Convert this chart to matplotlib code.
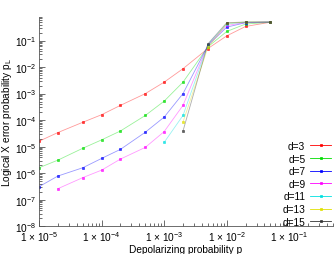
import matplotlib
matplotlib.use('Agg')
import matplotlib.pyplot as plt
from matplotlib.ticker import LogLocator, FixedLocator, NullFormatter

plt.rcParams['font.family'] = ['Liberation Sans', 'DejaVu Sans']
plt.rcParams['mathtext.fontset'] = 'custom'
plt.rcParams['mathtext.rm'] = 'Liberation Sans'
plt.rcParams['mathtext.it'] = 'Liberation Sans:italic'
plt.rcParams['font.size'] = 7.3

p_all = [1e-5, 2e-5, 5e-5, 1e-4, 2e-4, 5e-4, 1e-3, 2e-3, 5e-3, 1e-2, 2e-2, 5e-2]

d3 = [1.6e-5, 3.4e-5, 8.3e-5, 1.6e-4, 3.6e-4, 1.0e-3, 2.7e-3, 8.7e-3, 0.05, 0.15, 0.34, 0.49]
d5 = [1.6e-6, 3.1e-6, 8.7e-6, 1.8e-5, 3.9e-5, 1.5e-4, 5.2e-4, 2.7e-3, 0.058, 0.22, 0.42, 0.49]
d7 = [3.1e-7, 7.8e-7, 1.6e-6, 3.6e-6, 7.9e-6, 3.5e-5, 1.3e-4, 1.0e-3, 0.065, 0.32, 0.47, 0.5]
d9 = [2.6e-7, 6.8e-7, 1.3e-6, 3.4e-6, 9.4e-6, 3.7e-5, 3.6e-4, 0.068, 0.37, 0.48, 0.5]
d11 = [1.45e-5, 1.5e-4, 0.07, 0.42, 0.49, 0.5]
d13 = [8.5e-5, 0.055, 0.44, 0.5, 0.5]
d15 = [3.9e-5, 0.075, 0.47, 0.5, 0.5]

series = [('d=3', d3), ('d=5', d5), ('d=7', d7), ('d=9', d9),
          ('d=11', d11), ('d=13', d13), ('d=15', d15)]
cols = ['#ff0000', '#00dd00', '#0000ff', '#ff00ff', '#00e0e0', '#e0e000', '#333333']

fig = plt.figure(figsize=(3.34, 2.55), dpi=100)
ax = fig.add_axes([0.117, 0.109, 0.88, 0.822])

for (label, vals), col in zip(series, cols):
    ps = p_all[len(p_all) - len(vals):]
    ax.plot(ps, vals, color=col, lw=0.6, alpha=0.4)
    ax.plot(ps, vals, ls='None', marker='s', ms=1.8, mew=0.5,
            mec=col, mfc=col, alpha=0.75)
    # legend handle
    ax.plot([], [], color=col, lw=0.6, marker='s', ms=1.8, mew=0.5,
            mfc=col, label=label)

ax.set_xscale('log')
ax.set_yscale('log')
ax.set_xlim(1e-5, 0.5)
ax.set_ylim(1e-8, 0.8)

ax.xaxis.set_major_locator(FixedLocator([1e-5, 1e-4, 1e-3, 1e-2, 1e-1]))
ax.set_xticklabels([r'1 $\times$ 10$^{-5}$', r'1 $\times$ 10$^{-4}$', r'1 $\times$ 10$^{-3}$',
                    r'1 $\times$ 10$^{-2}$', r'1 $\times$ 10$^{-1}$'])
ax.xaxis.set_minor_locator(LogLocator(base=10, subs=range(2, 10), numticks=20))
ax.xaxis.set_minor_formatter(NullFormatter())
ax.yaxis.set_major_locator(FixedLocator([10.0 ** k for k in range(-8, 0)]))
ax.set_yticklabels([r'10$^{%d}$' % k for k in range(-8, 0)])
ax.yaxis.set_minor_locator(LogLocator(base=10, subs=range(2, 10), numticks=20))
ax.yaxis.set_minor_formatter(NullFormatter())

ax.tick_params(which='both', direction='in', colors='#555555', labelcolor='black', width=0.6)
ax.tick_params(which='major', length=4, pad=2)
ax.tick_params(which='minor', length=2)
for s in ['top', 'right']:
    ax.spines[s].set_visible(False)
for s in ['left', 'bottom']:
    ax.spines[s].set_color('#555555')
    ax.spines[s].set_linewidth(0.6)

ax.set_xlabel('Depolarizing probability p', labelpad=1)
ax.set_ylabel(r'Logical X error probability p$_\mathrm{L}$', labelpad=1)

ax.legend(loc='lower right', bbox_to_anchor=(0.99, 0.107), bbox_transform=fig.transFigure,
          frameon=False, markerfirst=False, handlelength=2.0, handletextpad=0.5,
          labelspacing=0.26, borderpad=0, borderaxespad=0)

fig.savefig('out.png', dpi=100)
